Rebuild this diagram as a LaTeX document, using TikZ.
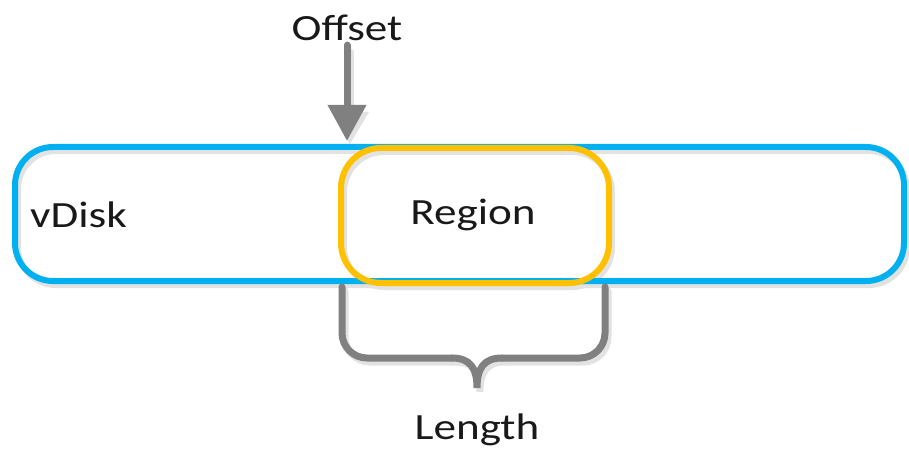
\documentclass[tikz,border=0pt]{standalone}
\usepackage{fontspec}
\setmainfont{Carlito}
\usetikzlibrary{arrows.meta}
\definecolor{vblue}{HTML}{00B0F0}
\definecolor{vyellow}{HTML}{FFC000}
\definecolor{vgray}{HTML}{808080}
\definecolor{vshadow}{HTML}{E2E2E2}
\newcommand{\wtext}[1]{\scalebox{1.22}[1]{\fontsize{37}{40}\selectfont #1}}
\begin{document}
\begin{tikzpicture}[x=1pt,y=-1pt,
  diskbox/.style={draw=vblue,line width=6pt,rounded corners=38pt,minimum width=889pt,minimum height=134pt,inner sep=0pt},
  regionbox/.style={draw=vyellow,line width=6pt,rounded corners=40pt,minimum width=268pt,minimum height=135pt,inner sep=0pt},
  shadowbox/.style={draw=vshadow,line width=6pt,inner sep=0pt},
  label/.style={inner sep=0pt,text=black!90},
  grayline/.style={draw=vgray,line width=7pt},
  shadowline/.style={draw=vshadow,line width=7pt}]
\useasboundingbox (0,0) rectangle (909,454);
% shadows
\node[shadowbox,rounded corners=38pt,minimum width=889pt,minimum height=134pt] at (462.5,218) {};
\node[shadowbox,rounded corners=40pt,minimum width=268pt,minimum height=135pt] at (478,219.5) {};
\draw[shadowline,line cap=round] (350,52) -- (350,110);
\fill[vshadow] (332,112) -- (369,112) -- (350,144) -- cycle;
\draw[shadowline,line cap=round,rounded corners=25pt] (345,291) -- (345,362) -- (455,362);
\draw[shadowline,line cap=round] (455,362) .. controls (473,362) and (480,372) .. (480,392) .. controls (480,372) and (487,362) .. (505,362);
\draw[shadowline,line cap=round,rounded corners=25pt] (505,362) -- (608,362) -- (608,291);
% main shapes
\node[diskbox] (vdisk) at (459.5,214) {};
\node[regionbox] (region) at (475,215.5) {};
\node[label,anchor=west] (vdisklabel) at (30,215) {\wtext{vDisk}};
\node[label] (regionlabel) at (473,215) {\wtext{Region}};
\node[label] (offset) at (347,28) {\wtext{Offset}};
\node[label] (length) at (477,430) {\wtext{Length}};
% offset arrow
\coordinate (tip) at (347,141);
\draw[grayline,line cap=round,-{Triangle[width=37pt,length=36pt]}] (offset.south)++(0,4) -- (tip);
% length brace
\coordinate (bl) at (342,287);
\coordinate (br) at (605,287);
\coordinate (bm) at (477,388);
\draw[grayline,line cap=round,rounded corners=25pt] (bl) -- (342,358) -- (452,358);
\draw[grayline,line cap=round] (452,358) .. controls (470,358) and (477,368) .. (bm) .. controls (477,368) and (484,358) .. (502,358);
\draw[grayline,line cap=round,rounded corners=25pt] (502,358) -- (605,358) -- (br);
\end{tikzpicture}
\end{document}
